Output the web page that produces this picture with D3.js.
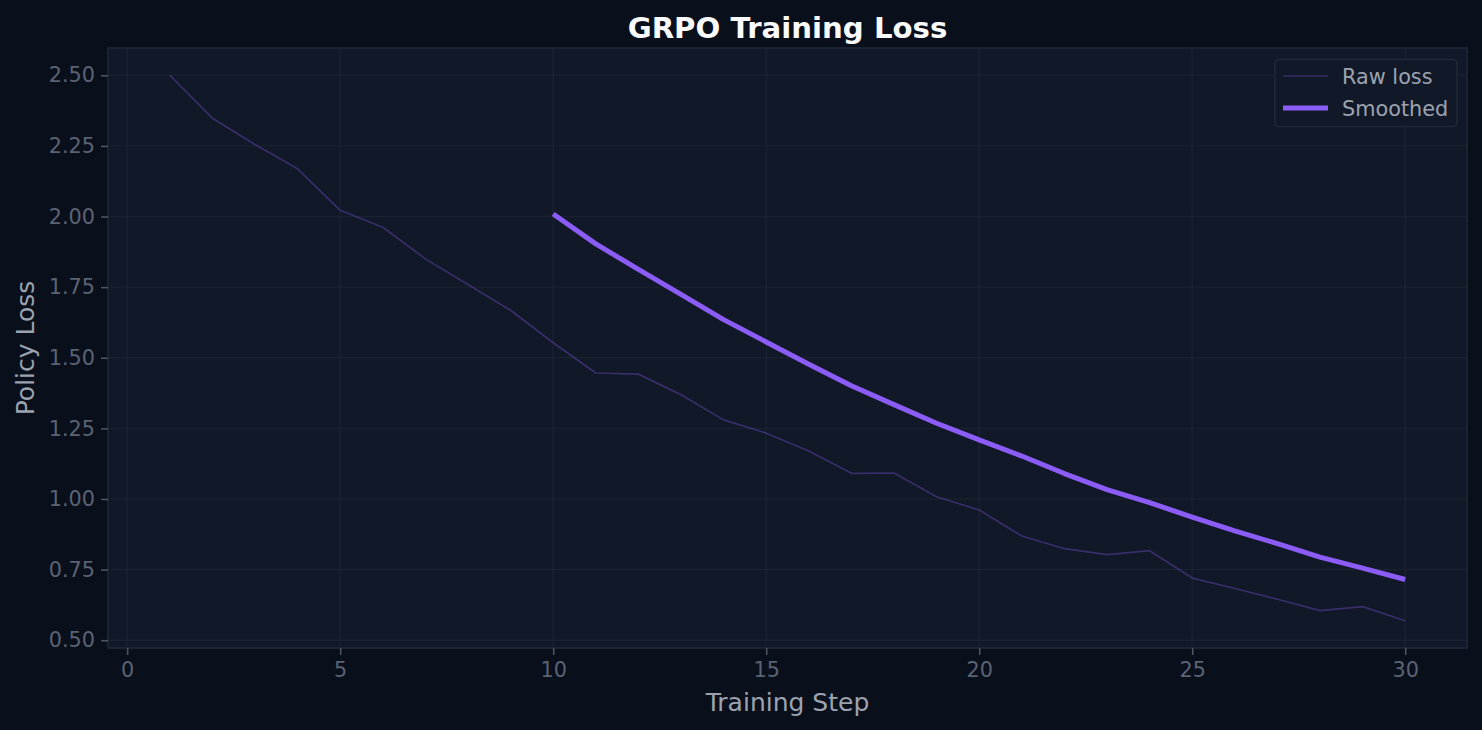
<!DOCTYPE html>
<html>
<head>
<meta charset="utf-8">
<script src="https://cdn.jsdelivr.net/npm/d3@7"></script>
<style>
  html, body { margin: 0; padding: 0; background: #0a0f1c; }
  svg { display: block; font-family: "DejaVu Sans", sans-serif; }
</style>
</head>
<body>
<svg id="chart" width="1482" height="730"></svg>
<script>
const steps = d3.range(1, 31);
const rawLoss = [2.500, 2.348, 2.255, 2.169, 2.022, 1.962, 1.850, 1.759, 1.668, 1.553,
                 1.446, 1.442, 1.369, 1.280, 1.233, 1.170, 1.091, 1.092, 1.008, 0.961,
                 0.869, 0.824, 0.803, 0.817, 0.720, 0.683, 0.645, 0.605, 0.619, 0.569];
const smoothSteps = d3.range(10, 31);
const smoothedLoss = [2.009, 1.903, 1.813, 1.724, 1.635, 1.556, 1.477, 1.401, 1.334, 1.268,
                      1.209, 1.152, 1.090, 1.033, 0.987, 0.936, 0.887, 0.842, 0.794, 0.755, 0.715];
const xTicks = [0, 5, 10, 15, 20, 25, 30];
const yTicks = [0.50, 0.75, 1.00, 1.25, 1.50, 1.75, 2.00, 2.25, 2.50];

const W = 1482, H = 730;
const m = {left: 108, right: 1467, top: 48, bottom: 648};
const svg = d3.select("#chart");

svg.append("rect").attr("width", W).attr("height", H).attr("fill", "#0a0f1c");

// matplotlib-like 5% margins
const xmin = d3.min(steps), xmax = d3.max(steps);
const allY = rawLoss.concat(smoothedLoss);
const ymin = d3.min(allY), ymax = d3.max(allY);
const xp = (xmax - xmin) * 0.05, yp = (ymax - ymin) * 0.05;
const x = d3.scaleLinear().domain([xmin - xp, xmax + xp]).range([m.left, m.right]);
const y = d3.scaleLinear().domain([ymin - yp, ymax + yp]).range([m.bottom, m.top]);

// axes background
svg.append("rect").attr("x", m.left).attr("y", m.top)
  .attr("width", m.right - m.left).attr("height", m.bottom - m.top)
  .attr("fill", "#111827");

// grid
const grid = svg.append("g");
grid.selectAll(".gx").data(xTicks).join("line")
  .attr("x1", d => x(d)).attr("x2", d => x(d))
  .attr("y1", m.top).attr("y2", m.bottom)
  .attr("stroke", "#1f2937").attr("stroke-width", 1.4).attr("stroke-opacity", 0.6);
grid.selectAll(".gy").data(yTicks).join("line")
  .attr("y1", d => y(d)).attr("y2", d => y(d))
  .attr("x1", m.left).attr("x2", m.right)
  .attr("stroke", "#1f2937").attr("stroke-width", 1.4).attr("stroke-opacity", 0.6);

// lines
const line = d3.line().x(d => x(d[0])).y(d => y(d[1]));
svg.append("path")
  .datum(steps.map((s, i) => [s, rawLoss[i]]))
  .attr("d", line).attr("fill", "none")
  .attr("stroke", "#8b5cf6").attr("stroke-opacity", 0.32)
  .attr("stroke-width", 1.7).attr("stroke-linejoin", "round");
svg.append("path")
  .datum(smoothSteps.map((s, i) => [s, smoothedLoss[i]]))
  .attr("d", line).attr("fill", "none")
  .attr("stroke", "#8b5cf6").attr("stroke-width", 5)
  .attr("stroke-linejoin", "round");

// spines
svg.append("rect").attr("x", m.left).attr("y", m.top)
  .attr("width", m.right - m.left).attr("height", m.bottom - m.top)
  .attr("fill", "none").attr("stroke", "#1f2937").attr("stroke-width", 1.6);

// axes
const tickColor = "#4b5563";
const labelColor = "#5b6373";
const xAxis = svg.append("g").attr("transform", `translate(0,${m.bottom})`)
  .call(d3.axisBottom(x).tickValues(xTicks).tickFormat(d3.format("d")).tickSize(7).tickPadding(7));
const yAxis = svg.append("g").attr("transform", `translate(${m.left},0)`)
  .call(d3.axisLeft(y).tickValues(yTicks).tickFormat(d3.format(".2f")).tickSize(7).tickPadding(6));
[xAxis, yAxis].forEach(a => {
  a.select(".domain").remove();
  a.selectAll(".tick line").attr("stroke", tickColor).attr("stroke-width", 1.6);
  a.selectAll(".tick text").attr("fill", labelColor)
    .style("font-family", "DejaVu Sans").style("font-size", "20.8px");
});

// titles
svg.append("text").attr("x", (m.left + m.right) / 2).attr("y", 38)
  .attr("text-anchor", "middle").attr("fill", "#f9fafb")
  .style("font-size", "29.2px").style("font-weight", "bold").text("GRPO Training Loss");
svg.append("text").attr("x", (m.left + m.right) / 2).attr("y", 711)
  .attr("text-anchor", "middle").attr("fill", "#9ca3af")
  .style("font-size", "25px").text("Training Step");
svg.append("text")
  .attr("transform", `translate(34,${(m.top + m.bottom) / 2}) rotate(-90)`)
  .attr("text-anchor", "middle").attr("fill", "#9ca3af")
  .style("font-size", "25px").text("Policy Loss");

// legend
const lg = svg.append("g");
lg.append("rect").attr("x", 1275).attr("y", 59.5).attr("width", 182).attr("height", 67)
  .attr("rx", 4).attr("fill", "#111827").attr("stroke", "#1f2937").attr("stroke-width", 1.6);
const legendItems = [
  {label: "Raw loss", width: 1.7, opacity: 0.32},
  {label: "Smoothed", width: 5, opacity: 1}
];
legendItems.forEach((it, i) => {
  const yy = 76 + i * 32;
  lg.append("line").attr("x1", 1283).attr("x2", 1328).attr("y1", yy).attr("y2", yy)
    .attr("stroke", "#8b5cf6").attr("stroke-opacity", it.opacity).attr("stroke-width", it.width);
  lg.append("text").attr("x", 1342).attr("y", yy + 7.5).attr("fill", "#9ca3af")
    .style("font-size", "20.8px").text(it.label);
});
</script>
</body>
</html>
